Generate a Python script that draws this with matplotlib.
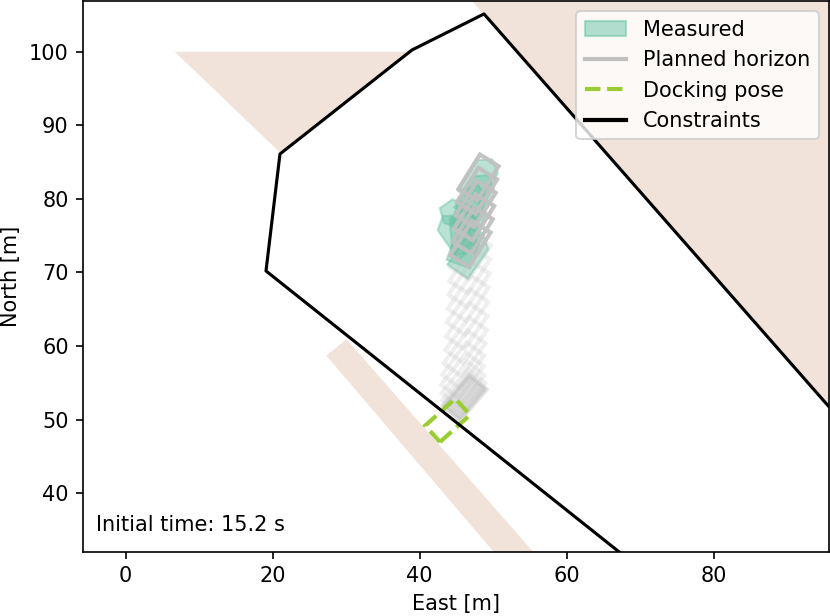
import numpy as np
import matplotlib
matplotlib.use("Agg")
import matplotlib.pyplot as plt
from matplotlib.patches import Polygon, Patch
from matplotlib.lines import Line2D

# Vessel size [m]
vessel_length = 5.5
vessel_beam = 3.0

# Land areas (east, north)
land_nw_east = [6.7, 39.0, 21.0]
land_nw_north = [100.0, 100.0, 86.3]
land_ne_east = [40.0, 110.0, 110.0]
land_ne_north = [115.0, 35.3, 115.0]
land_s_east = [27.3, 30.05, 66.0, 60.3]
land_s_north = [58.7, 60.9, 20.0, 20.0]

# Constraint polygon
constraint_east = [90.0, 19.1, 21.0, 38.95, 48.74, 110.0]
constraint_north = [13.8, 70.2, 86.1, 100.24, 105.14, 35.4]

# Measured poses (east, north, heading from east in deg)
meas_east = [48.2, 47.7, 46.9, 45.6, 45.9, 44.9, 46.3, 46.9]
meas_north = [82.8, 80.6, 79.0, 77.7, 75.6, 75.2, 74.0, 72.6]
meas_angle = [58, 60, 70, 160, 95, 125, 70, 55]

# Planned horizon, first states (strong)
plan_east = [48.0, 47.8, 47.6, 47.4, 47.2, 46.9]
plan_north = [82.9, 81.1, 79.3, 77.5, 75.7, 73.9]
plan_angle = [58, 58, 58, 58, 58, 58]

# Planned horizon, later states (faded)
fade_east = [46.9, 46.8, 46.7, 46.6, 46.5, 46.4, 46.3, 46.1, 45.9, 45.8, 45.9, 46.0]
fade_north = [72.2, 70.3, 68.4, 66.5, 64.6, 62.7, 60.8, 59.0, 57.4, 56.0, 54.8, 53.8]
fade_angle = [57, 57, 56, 56, 55, 55, 54, 54, 53, 52, 51, 50]

# Planned horizon, final states (stacked at the end)
end_east = [46.1, 46.0, 46.2, 46.05, 46.15, 46.1]
end_north = [53.0, 53.1, 52.9, 53.05, 52.95, 53.0]
end_angle = [49.6, 50.5, 49.0, 50.0, 49.3, 49.8]

# Docking pose
dock_east, dock_north, dock_angle = 43.8, 49.9, 42

land_color = "#f1e3da"
meas_color = "#66c2a5"
plan_color = "silver"
dock_color = "yellowgreen"


def rect_pts(e, n, ang):
    a = np.deg2rad(ang)
    body = np.array([[-vessel_length/2, -vessel_beam/2], [vessel_length/2, -vessel_beam/2],
                     [vessel_length/2, vessel_beam/2], [-vessel_length/2, vessel_beam/2]])
    R = np.array([[np.cos(a), -np.sin(a)], [np.sin(a), np.cos(a)]])
    return body @ R.T + [e, n]


def boat_pts(e, n, ang):
    a = np.deg2rad(ang)
    L = vessel_length + 0.6
    B = vessel_beam + 0.4
    body = np.array([[-L/2, -B/2], [L/2 - 1.2, -B/2], [L/2, 0],
                     [L/2 - 1.2, B/2], [-L/2, B/2]])
    R = np.array([[np.cos(a), -np.sin(a)], [np.sin(a), np.cos(a)]])
    return body @ R.T + [e, n]


fig = plt.figure(figsize=(830/150, 616/150), dpi=150)
ax = fig.add_axes([83.3/830, 64.5/616, 745.7/830, 550.5/616])

for xs, ys in [(land_nw_east, land_nw_north), (land_ne_east, land_ne_north), (land_s_east, land_s_north)]:
    ax.add_patch(Polygon(np.column_stack([xs, ys]), closed=True, facecolor=land_color,
                         edgecolor="none", zorder=1))

# measured
for e, n, a in zip(meas_east, meas_north, meas_angle):
    ax.add_patch(Polygon(boat_pts(e, n, a), closed=True, facecolor=meas_color,
                         edgecolor=meas_color, alpha=0.45, lw=1, zorder=2))

# planned
for e, n, a in zip(fade_east, fade_north, fade_angle):
    ax.add_patch(Polygon(rect_pts(e, n, a), closed=True, facecolor="none",
                         edgecolor=plan_color, alpha=0.25, lw=2, zorder=3))
for e, n, a in zip(end_east, end_north, end_angle):
    ax.add_patch(Polygon(rect_pts(e, n, a), closed=True, facecolor=plan_color,
                         edgecolor=plan_color, alpha=0.12, lw=2, zorder=3))
for e, n, a in zip(plan_east, plan_north, plan_angle):
    ax.add_patch(Polygon(rect_pts(e, n, a), closed=True, facecolor="none",
                         edgecolor=plan_color, alpha=0.95, lw=2, zorder=3))

# docking pose
ax.add_patch(Polygon(rect_pts(dock_east, dock_north, dock_angle), closed=True, facecolor="none",
                     edgecolor=dock_color, ls="--", lw=2, zorder=4))

ax.plot(constraint_east + constraint_east[:1], constraint_north + constraint_north[:1],
        color="black", lw=1.5, zorder=5)

ax.set_xlim(-5.74, 95.65)
ax.set_ylim(32.06, 106.9)
ax.set_xlabel("East [m]")
ax.set_ylabel("North [m]")
ax.text(0.017, 0.037, "Initial time: 15.2 s", transform=ax.transAxes)

handles = [Patch(facecolor=meas_color, edgecolor=meas_color, alpha=0.5, label="Measured"),
           Line2D([], [], color=plan_color, lw=2, label="Planned horizon"),
           Line2D([], [], color=dock_color, lw=2, ls="--", label="Docking pose"),
           Line2D([], [], color="black", lw=2, label="Constraints")]
ax.legend(handles=handles, loc="upper right")

fig.savefig("out.png", dpi=150)
